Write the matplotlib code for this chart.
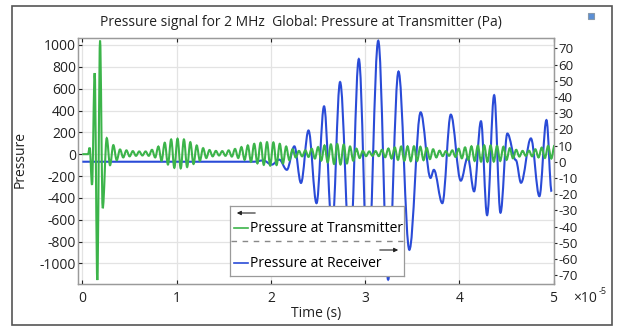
import numpy as np
import matplotlib
matplotlib.use("Agg")
import matplotlib.pyplot as plt
from matplotlib.patches import Rectangle, PathPatch
from matplotlib.path import Path
from matplotlib.lines import Line2D
from matplotlib.transforms import blended_transform_factory

# ---------------- data (time in units of 1e-5 s) ----------------
# Transmitter pressure (left axis, Pa): initial pulse extrema
green_pulse_t = [0.0, 0.06, 0.078, 0.103, 0.131, 0.159, 0.188, 0.216, 0.259, 0.294, 0.329, 0.365]
green_pulse_p = [0, 0, 60, -282, 743, -1153, 1040, -495, 147, -101, 83, -55]
# Transmitter ringing: successive extrema (peak/trough)
green_ring_start = 0.40
green_ring_half_period = 0.0339
green_ring_p = [
    43, -30, 35, -20, 28, -15, 25, -12, 25, -15,
    40, -30, 70, -60, 105, -95, 135, -125, 142, -130,
    135, -118, 110, -90, 80, -60, 55, -35, 38, -20,
    30, -12, 28, -15, 35, -22, 48, -35, 65, -52,
    80, -70, 95, -85, 105, -98, 110, -105, 108, -100,
    95, -85, 70, -55, 45, -30, 30, -20, 35, -25,
    50, -40, 65, -58, 80, -75, 90, -90, 93, -95,
    88, -85, 70, -60, 50, -35, 30, -18, 25, -15,
    28, -18, 40, -28, 52, -40, 62, -52, 70, -60,
    72, -64, 72, -62, 68, -55, 58, -45, 45, -30,
    32, -18, 28, -15, 35, -25, 50, -38, 62, -52,
    72, -62, 78, -68, 80, -70, 80, -68, 75, -62,
    68, -52, 55, -38, 40, -22, 30, -15, 32, -20,
    45, -30, 60, -35, 75, -40, 80,
]
# Receiver pressure (right axis, Pa): extrema
blue_t = [0.0, 1.82, 1.92, 2.01, 2.09, 2.17, 2.25, 2.32, 2.40, 2.485, 2.565, 2.65,
          2.735, 2.84, 2.934, 3.03, 3.14, 3.245, 3.355, 3.47, 3.59, 3.695, 3.73,
          3.82, 3.91, 4.016, 4.09, 4.157, 4.23, 4.295, 4.37, 4.437, 4.51, 4.60,
          4.655, 4.76, 4.85, 4.925, 4.98]
blue_p = [0, 0, 0.8, -1.8, 1.3, -5.0, 9.5, -13.1, 19.3, -25.6, 34.2, -42,
          49.2, -57, 63.4, -68, 74.7, -72.8, 55.7, -54.4, 30.5, -10, -5,
          -25.6, 29.1, -11.7, 2.7, -18.3, 25, -33, 41.1, -31.5, 17.4, 1,
          -13, 14.4, -21.3, 25.7, -18.5]

x_ticks = [0, 1, 2, 3, 4, 5]
left_ticks = list(range(-1000, 1001, 200))
right_ticks = list(range(-70, 71, 10))

title = "Pressure signal for 2 MHz  Global: Pressure at Transmitter (Pa)"
legend_labels = ["Pressure at Transmitter", "Pressure at Receiver"]

# ---------------- style ----------------
plt.rcParams['font.family'] = ['Open Sans', 'DejaVu Sans']
GREEN = '#3cb44a'
BLUE = '#2a4bd7'
FS = 10
TXT = '#222222'

green_t = list(green_pulse_t) + list(green_ring_start + green_ring_half_period * np.arange(len(green_ring_p)))
green_p = list(green_pulse_p) + list(green_ring_p)


def smooth_path(ts, vs):
    """Path through the extrema with horizontal tangents (cubic Bezier segments)."""
    verts = [(ts[0], vs[0])]
    codes = [Path.MOVETO]
    for i in range(len(ts) - 1):
        d = ts[i + 1] - ts[i]
        verts += [(ts[i] + 0.364 * d, vs[i]), (ts[i + 1] - 0.364 * d, vs[i + 1]), (ts[i + 1], vs[i + 1])]
        codes += [Path.CURVE4] * 3
    return Path(verts, codes)


fig = plt.figure(figsize=(6.18, 3.27), dpi=100)
W, H = 618, 327


def fx(px):
    return px / W


def fy(py):
    return 1 - py / H


axL, axR = 78, 554
axT, axB = 38, 284
ax = fig.add_axes([fx(axL), fy(axB), fx(axR - axL), (axB - axT) / H])  # transmitter, left scale
ax2 = ax.twinx()  # receiver, right scale
ax.set_zorder(ax2.get_zorder() + 1)
ax.patch.set_visible(False)
ax2.patch.set_visible(True)
ax2.patch.set_facecolor('white')

ax.set_xlim(-0.046, 5.005)
ax.set_ylim(-1189, 1064)
ax2.set_ylim(-75.5, 76.4)

# grid lines (drawn on the lower axes, positioned in left-axis data coordinates)
gtrans_h = blended_transform_factory(ax2.transAxes, ax.transData)
for v in left_ticks:
    ax2.add_line(Line2D([0, 1], [v, v], transform=gtrans_h, color='#e3e3e3', lw=0.9, zorder=0.5))
for v in x_ticks:
    ax2.axvline(v, color='#e3e3e3', lw=0.9, zorder=0.5)

ax2.add_patch(PathPatch(smooth_path(blue_t, blue_p), fill=False, edgecolor=BLUE, lw=1.5, zorder=2))
ax.add_patch(PathPatch(smooth_path(green_t, green_p), fill=False, edgecolor=GREEN, lw=1.5, zorder=3))

ax.set_xticks(x_ticks)
ax.set_xticklabels([str(v) for v in x_ticks])
ax.set_yticks(left_ticks)
ax.set_yticklabels([str(v) for v in left_ticks])
ax2.set_yticks(right_ticks)
ax2.set_yticklabels([str(v) for v in right_ticks])

for a in (ax, ax2):
    for s in a.spines.values():
        s.set_color('#9a9a9a')
        s.set_linewidth(0.9)

ax.tick_params(axis='y', direction='in', length=3, pad=1.5, labelsize=FS, colors=TXT, width=0.8)
ax.tick_params(axis='x', direction='in', length=3, pad=5, labelsize=FS, colors=TXT, width=0.8,
               top=True, bottom=True, labelbottom=True)
ax2.tick_params(axis='y', direction='out', length=2, pad=1, labelsize=FS - 0.5, colors=TXT, width=0.8)

fig.text(fx(20), fy(160), "Pressure", rotation=90, ha='center', va='center', fontsize=FS, color=TXT)
fig.text(fx(316), fy(313), "Time (s)", ha='center', va='center', fontsize=FS, color=TXT)
fig.text(fx(573), fy(298), "\u00d710", ha='left', va='center', fontsize=FS, color=TXT)
fig.text(fx(599), fy(291), "-5", ha='left', va='center', fontsize=FS - 3.5, color=TXT)
fig.text(fx(301), fy(22), title, ha='center', va='center', fontsize=FS, color=TXT)

# outer frame and icon
fig.patches.append(Rectangle((fx(12), fy(325)), fx(600), (325 - 6) / H, transform=fig.transFigure,
                             fill=False, edgecolor='#555555', lw=1.2))
fig.patches.append(Rectangle((fx(588), fy(19)), fx(6), 6 / H, transform=fig.transFigure,
                             facecolor='#5b8fd6', edgecolor='#8899aa', lw=0.8))

# legend box (manual)
lx0, lx1, ly0, ly1 = 230, 404, 206, 276
lg = fig.add_axes([fx(lx0), fy(ly1), fx(lx1 - lx0), (ly1 - ly0) / H])
lg.set_zorder(20)
lg.set_xlim(lx0, lx1)
lg.set_ylim(ly1, ly0)
lg.set_xticks([])
lg.set_yticks([])
for s in lg.spines.values():
    s.set_color('#9a9a9a')
    s.set_linewidth(0.9)
lg.annotate('', xy=(234, 213), xytext=(258, 213),
            arrowprops=dict(arrowstyle='-|>', color=TXT, lw=0.8, mutation_scale=6))
lg.plot([234, 248], [228, 228], color=GREEN, lw=1.2)
lg.text(250, 228.5, legend_labels[0], ha='left', va='center', fontsize=FS)
lg.plot([231, 403], [241, 241], color='#888888', lw=1.0, ls=(0, (4, 4)))
lg.annotate('', xy=(401, 250), xytext=(377, 250),
            arrowprops=dict(arrowstyle='-|>', color=TXT, lw=0.8, mutation_scale=6))
lg.plot([234, 248], [263, 263], color=BLUE, lw=1.2)
lg.text(250, 263.5, legend_labels[1], ha='left', va='center', fontsize=FS)

fig.savefig('out.png', dpi=100)
